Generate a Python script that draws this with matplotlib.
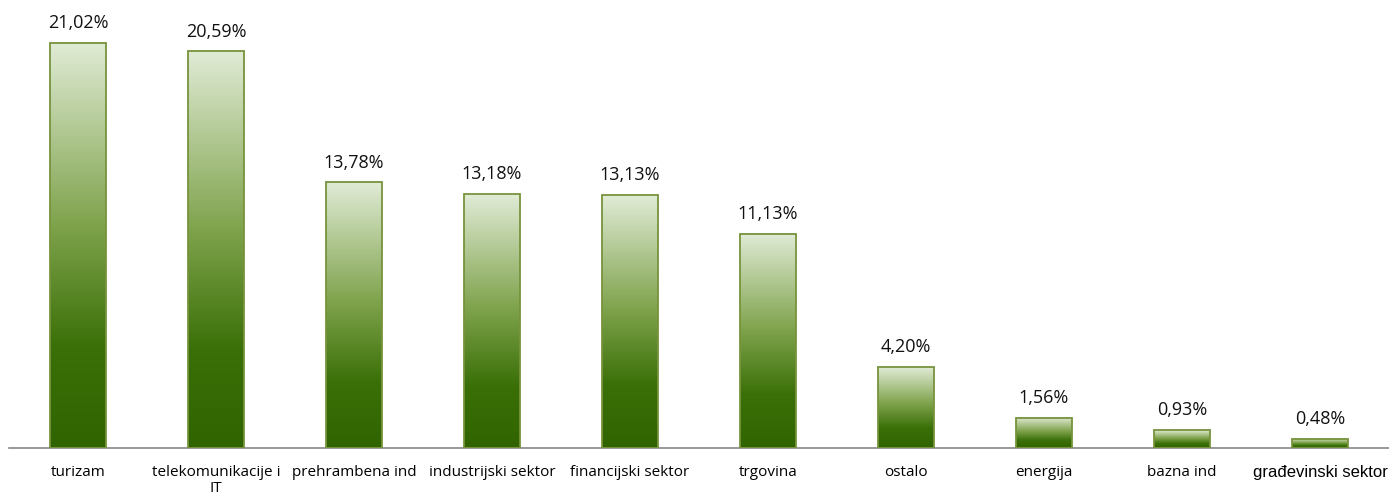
import numpy as np
import matplotlib.pyplot as plt
from matplotlib.colors import LinearSegmentedColormap

categories = ['turizam', 'telekomunikacije i\nIT', 'prehrambena ind', 'industrijski sektor',
              'financijski sektor', 'trgovina', 'ostalo', 'energija', 'bazna ind',
              'građevinski sektor']
values = [21.02, 20.59, 13.78, 13.18, 13.13, 11.13, 4.20, 1.56, 0.93, 0.48]

# light at top, dark green at bottom
cmap = LinearSegmentedColormap.from_list(
    'grn', [(0.0, '#2f6400'), (0.25, '#3b7008'), (0.55, '#7fa34c'), (1.0, '#e0ebd5')])

fig = plt.figure(figsize=(13.89, 4.95), dpi=100)
ax = fig.add_axes([9 / 1389, 47 / 495, 1380 / 1389, 448 / 495])

x = np.arange(len(values))
width = 0.4
grad = np.linspace(0, 1, 256).reshape(-1, 1)
bars = ax.bar(x, values, width=width, color='none', edgecolor='#77933c', linewidth=1.3, zorder=3)
for b, v in zip(bars, values):
    x0 = b.get_x()
    ax.imshow(grad, cmap=cmap, origin='lower', aspect='auto',
              extent=(x0, x0 + width, 0, v), zorder=2)
    ax.text(b.get_x() + width / 2, v + 0.55, f'{v:.2f}%'.replace('.', ','),
            ha='center', va='bottom', fontsize=13, family='Open Sans', color='#111111')

ax.set_xlim(-0.5, len(values) - 0.5)
ax.set_ylim(0, 23.25)
ax.set_xticks(x)
ax.set_xticklabels(categories, fontsize=11, family='Open Sans', linespacing=1.1)
labs = ax.get_xticklabels()
labs[-1].set_family('Liberation Sans')
labs[-1].set_fontsize(12)
ax.tick_params(axis='x', length=0, pad=12)
ax.set_yticks([])
for s in ['top', 'right', 'left']:
    ax.spines[s].set_visible(False)
ax.spines['bottom'].set_color('#868686')
ax.spines['bottom'].set_linewidth(1.2)

fig.savefig('out.png', dpi=100)
